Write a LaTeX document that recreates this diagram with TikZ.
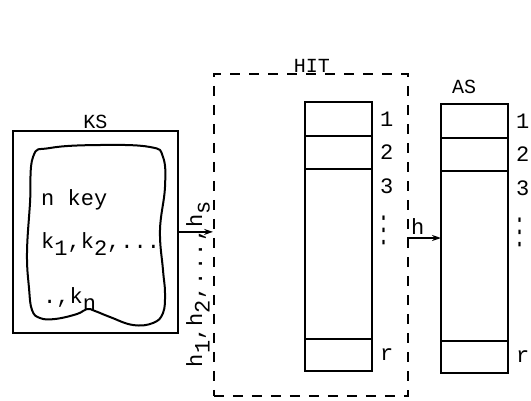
\documentclass[tikz,border=0pt]{standalone}
\usepackage{fontspec}
\setmonofont{Liberation Mono}
\newfontfamily\symfont{DejaVu Sans}
\usetikzlibrary{positioning,arrows.meta}
\newcommand\lowtext[1]{\raisebox{-0.35em}{#1}}

\begin{document}
\begin{tikzpicture}[x=1pt, y=-1pt,
    every node/.style={font=\ttfamily\fontsize{22}{24}\selectfont},
    ksbox/.style={draw, line width=1.8pt, minimum width=165pt, minimum height=202pt,
                anchor=north west, inner sep=0pt},
    hitbox/.style={draw, dash pattern=on 10pt off 9pt, line width=1.6pt, minimum width=194pt,
                minimum height=322pt, anchor=north west, inner sep=0pt},
    cell/.style={draw, line width=1.8pt, minimum width=67pt, inner sep=0pt, outer sep=0pt},
    blob/.style={line width=2pt},
    arr/.style={-{Stealth[length=9pt, width=6pt]}, line width=1.8pt},
    lbl/.style={inner sep=1pt},
    title/.style={inner sep=1pt, font=\ttfamily\fontsize{20}{22}\selectfont},
    idx/.style={anchor=west, inner sep=0pt, xshift=8pt},
    vdot/.style={inner sep=0pt, font=\symfont\fontsize{21}{23}\selectfont},
  ]
  \useasboundingbox (0,0) rectangle (531,400);

  % === Key set ===
  \node[ksbox] (ks) at (12,130) {};
  \node[title, anchor=south] (kslbl) at (ks.north) {KS};
  \draw[blob] plot[smooth cycle, tension=0.7] coordinates {
    (33,157) (50,148) (100,145) (150,147) (163,157) (165,187) (160,230) (163,270)
    (165,293) (163,313) (153,323) (133,325) (110,317) (95,311) (87,309) (77,314)
    (55,319) (40,318) (32,310) (29,288) (27,253) (30,203)};
  \node[lbl, anchor=base west] (nkey) at (40,205) {n key};
  \node[lbl, anchor=base west] (klist) at (40,248) {k\lowtext{1},k\lowtext{2},...};
  \node[lbl, anchor=base west] (kn) at (42,303) {.,k\lowtext{n}};

  % === Hash index table ===
  \node[hitbox] (hit) at (213,73) {};
  \node[title, fill=white, anchor=base] (hitlbl) at (312,72) {HIT};

  % === Tables ===
  \foreach \tab/\xl/\yt in {ht/305/102, as/441/104} {
    \node[cell, minimum height=34pt, anchor=north west] (\tab-1) at (\xl,\yt) {};
    \node[cell, minimum height=33pt, below=0pt of \tab-1] (\tab-2) {};
    \node[cell, minimum height=170pt, below=0pt of \tab-2] (\tab-3) {};
    \node[cell, minimum height=32pt, below=0pt of \tab-3] (\tab-r) {};
    \node[idx] at (\tab-1.east) {1};
    \node[idx] at (\tab-2.east) {2};
    \node[idx] at ([yshift=-17pt]\tab-3.north east) {3};
    \node[vdot] at ([xshift=12pt, yshift=-61pt]\tab-3.north east) {\scalebox{1}[1.7]{⋮}};
    \node[idx] at (\tab-r.east) {r};
  }
  \node[title, anchor=base] (aslbl) at (464,93) {AS};

  % === Arrows ===
  \draw[arr] (ks.east) -- (hit.west |- ks.east);
  \node[lbl, rotate=90] (hlist) at (198,284)
    {\addfontfeature{LetterSpace=6}h\lowtext{1},h\lowtext{2},...,h\lowtext{s}};
  \coordinate (hout) at (407,238);
  \draw[arr] (hout) -- (hout -| as-3.west);
  \node[lbl, anchor=south west] (hlbl) at ([xshift=3pt, yshift=2pt]hout) {h};

\end{tikzpicture}
\end{document}
